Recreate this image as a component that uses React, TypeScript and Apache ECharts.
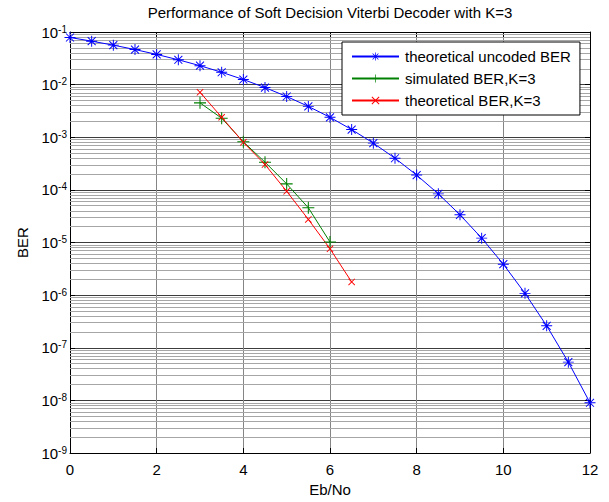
import React, { useEffect, useRef } from "react";
import * as echarts from "echarts";

const ebNo = [0, 0.5, 1, 1.5, 2, 2.5, 3, 3.5, 4, 4.5, 5, 5.5, 6, 6.5, 7, 7.5, 8, 8.5, 9, 9.5, 10, 10.5, 11, 11.5, 12];
const uncodedBer = [
  7.865e-2, 6.7e-2, 5.63e-2, 4.64e-2, 3.75e-2, 2.965e-2, 2.29e-2, 1.717e-2, 1.25e-2, 8.79e-3,
  5.95e-3, 3.86e-3, 2.39e-3, 1.4e-3, 7.73e-4, 3.99e-4, 1.91e-4, 8.4e-5, 3.36e-5, 1.21e-5,
  3.87e-6, 1.08e-6, 2.61e-7, 5.33e-8, 9.0e-9,
];
const simEbNo = [3, 3.5, 4, 4.5, 5, 5.5, 6];
const simBer = [4.5e-3, 2.3e-3, 8.2e-4, 3.36e-4, 1.3e-4, 4.57e-5, 1.02e-5];
const theoEbNo = [3, 3.5, 4, 4.5, 5, 5.5, 6, 6.5];
const theoBer = [7.15e-3, 2.4e-3, 8.0e-4, 3.03e-4, 9.4e-5, 2.75e-5, 7.6e-6, 1.78e-6];
const decadeExponents = [-9, -8, -7, -6, -5, -4, -3, -2];
const minorMultipliers = [2, 3, 4, 5, 6, 7, 8, 9];

const seriesNames = ["theoretical uncoded BER", "simulated BER,K=3", "theoretical BER,K=3"];

const FONT = "Arial";

const ASTERISK =
  "path://M-0.7,-8 L0.7,-8 L0.7,8 L-0.7,8 Z M-8,-0.7 L8,-0.7 L8,0.7 L-8,0.7 Z " +
  "M-6.3,-5.3 L-5.3,-6.3 L6.3,5.3 L5.3,6.3 Z M5.3,-6.3 L6.3,-5.3 L-5.3,6.3 L-6.3,5.3 Z";
const PLUS = "path://M-0.7,-8 L0.7,-8 L0.7,8 L-0.7,8 Z M-8,-0.7 L8,-0.7 L8,0.7 L-8,0.7 Z";
const CROSS =
  "path://M-7.7,-6.3 L-6.3,-7.7 L7.7,6.3 L6.3,7.7 Z M6.3,-7.7 L7.7,-6.3 L-6.3,7.7 L-7.7,6.3 Z";

export default function App() {
  const ref = useRef<HTMLDivElement>(null);
  useEffect(() => {
    if (!ref.current) return;
    const chart = echarts.init(ref.current, undefined, { renderer: "svg" });
    const minorLines: any[] = [];
    decadeExponents.forEach((e) => {
      minorMultipliers.forEach((m) => {
        minorLines.push({ yAxis: m * Math.pow(10, e) });
      });
    });
    const yLabel = (v: number) => {
      const e = Math.round(Math.log10(v));
      return `{b|10}{s|${e}}`;
    };
    chart.setOption({
      animation: false,
      backgroundColor: "#ffffff",
      textStyle: { fontFamily: FONT },
      title: {
        text: "Performance of Soft Decision Viterbi Decoder with K=3",
        left: 330,
        top: 5,
        padding: 0,
        textAlign: "center",
        textStyle: { fontFamily: FONT, fontSize: 15, fontWeight: "normal", color: "#000" },
      },
      legend: {
        data: seriesNames,
        orient: "vertical",
        left: 342,
        top: 42,
        itemWidth: 47,
        itemHeight: 10,
        itemGap: 7,
        padding: [7, 9, 7, 9],
        borderColor: "#000",
        borderWidth: 1,
        backgroundColor: "#fff",
        z: 10,
        textStyle: { fontFamily: FONT, fontSize: 15, color: "#000", padding: [0, 0, 0, 1] },
      },
      grid: { left: 70, right: 19, top: 32, bottom: 48 },
      xAxis: [
        {
          type: "value",
          min: 0,
          max: 12,
          interval: 2,
          name: "Eb/No",
          nameLocation: "middle",
          nameGap: 29,
          nameTextStyle: { fontFamily: FONT, fontSize: 15, color: "#000" },
          axisLine: { show: true, onZero: false, lineStyle: { color: "#000", width: 1 } },
          axisTick: { show: true, inside: true, length: 5, lineStyle: { color: "#000" } },
          axisLabel: { fontFamily: FONT, fontSize: 15, color: "#000", margin: 9 },
          splitLine: { show: true, lineStyle: { color: "#858585", width: 1 } },
        },
        {
          type: "value",
          position: "top",
          min: 0,
          max: 12,
          interval: 2,
          axisLine: { show: true, onZero: false, lineStyle: { color: "#000", width: 1 } },
          axisTick: { show: true, inside: true, length: 5, lineStyle: { color: "#000" } },
          axisLabel: { show: false },
          splitLine: { show: false },
        },
      ],
      yAxis: [
        {
          type: "log",
          logBase: 10,
          min: 1e-9,
          max: 1e-1,
          splitNumber: 8,
          name: "BER",
          nameLocation: "middle",
          nameGap: 40,
          nameTextStyle: { fontFamily: FONT, fontSize: 15, color: "#000" },
          axisLine: { show: true, onZero: false, lineStyle: { color: "#000", width: 1 } },
          axisTick: { show: true, inside: true, length: 5, lineStyle: { color: "#000" } },
          axisLabel: {
            margin: 3,
            formatter: yLabel,
            rich: {
              b: { fontFamily: FONT, fontSize: 15, color: "#000", lineHeight: 16 },
              s: { fontFamily: FONT, fontSize: 10, color: "#000", lineHeight: 1, verticalAlign: "top" },
            },
          },
          splitLine: { show: true, lineStyle: { color: "#3c3c3c", width: 1 } },
        },
        {
          type: "log",
          logBase: 10,
          min: 1e-9,
          max: 1e-1,
          splitNumber: 8,
          position: "right",
          axisLine: { show: true, onZero: false, lineStyle: { color: "#000", width: 1 } },
          axisTick: { show: true, inside: true, length: 5, lineStyle: { color: "#000" } },
          axisLabel: { show: false },
          splitLine: { show: false },
        },
      ],
      series: [
        {
          name: "minor-grid",
          type: "line",
          z: 1,
          silent: true,
          data: [[0, 1e-1]],
          showSymbol: false,
          lineStyle: { opacity: 0 },
          markLine: {
            silent: true,
            z: 1,
            precision: 15,
            symbol: ["none", "none"],
            label: { show: false },
            emphasis: { disabled: true },
            lineStyle: { color: "#a6a6a6", width: 1, type: "solid" },
            data: minorLines,
          },
        },
        {
          name: seriesNames[0],
          type: "line",
          z: 3,
          data: ebNo.map((x, i) => [x, uncodedBer[i]]),
          symbol: ASTERISK,
          symbolSize: 11,
          color: "#0000ff",
          itemStyle: { color: "#0000ff" },
          lineStyle: { color: "#0000ff", width: 1 },
        },
        {
          name: seriesNames[1],
          type: "line",
          z: 3,
          data: simEbNo.map((x, i) => [x, simBer[i]]),
          symbol: PLUS,
          symbolSize: 12,
          color: "#008000",
          itemStyle: { color: "#008000" },
          lineStyle: { color: "#008000", width: 1 },
        },
        {
          name: seriesNames[2],
          type: "line",
          z: 3,
          data: theoEbNo.map((x, i) => [x, theoBer[i]]),
          symbol: CROSS,
          symbolSize: 7,
          color: "#ff0000",
          itemStyle: { color: "#ff0000" },
          lineStyle: { color: "#ff0000", width: 1 },
        },
      ],
    });
    return () => chart.dispose();
  }, []);
  return (
    <div
      ref={ref}
      style={{ position: "absolute", left: 0, top: 0, width: 609, height: 502, background: "#fff" }}
    />
  );
}
